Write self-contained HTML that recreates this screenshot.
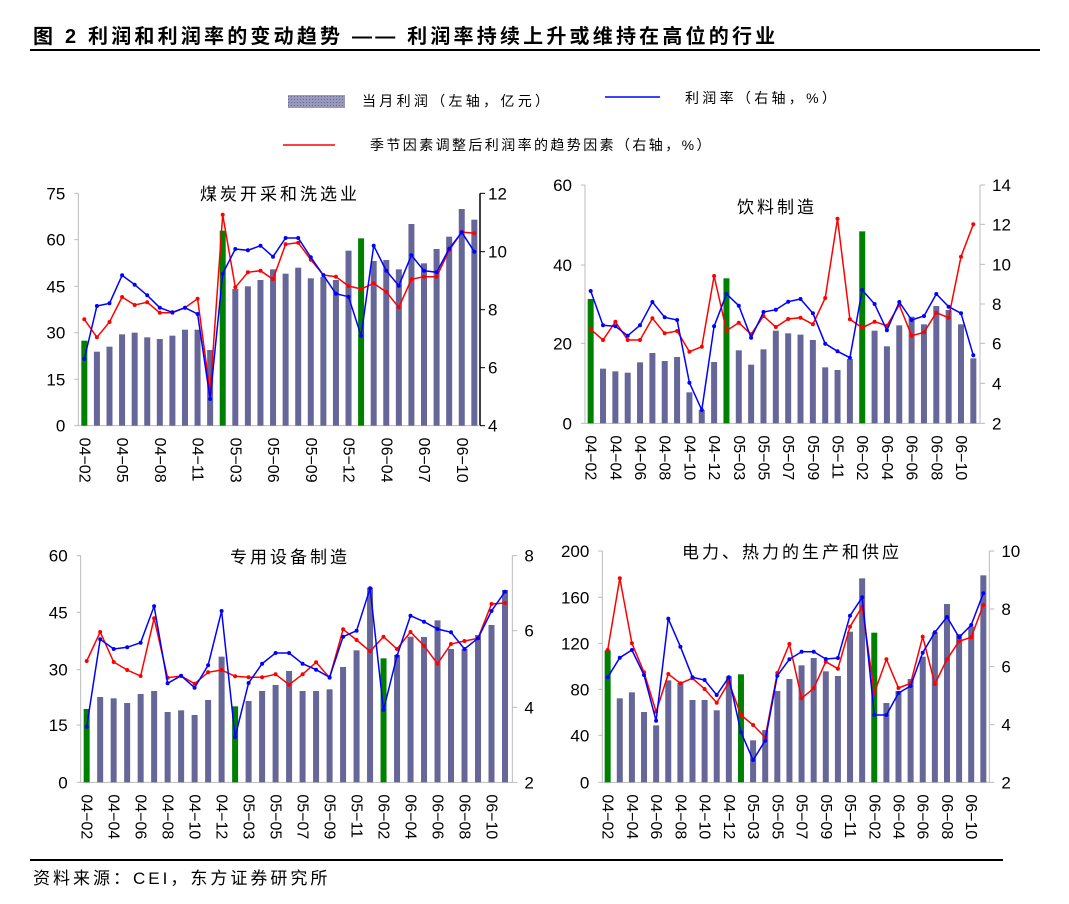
<!DOCTYPE html>
<html><head><meta charset="utf-8"><style>
body{margin:0;background:#fff;width:1069px;height:904px;overflow:hidden}
svg{display:block;font-family:"Liberation Sans","Noto Sans CJK SC",sans-serif}
</style></head><body>
<svg id="s" width="1069" height="904" xmlns="http://www.w3.org/2000/svg">
<text x="33" y="43" font-size="20" font-weight="bold" fill="#000" letter-spacing="3.2">图 2 利润和利润率的变动趋势 —— 利润率持续上升或维持在高位的行业</text>
<line x1="30" y1="50" x2="1040" y2="50" stroke="#000" stroke-width="2"/>
<defs><pattern id="pt" width="3" height="3" patternUnits="userSpaceOnUse"><rect width="3" height="3" fill="#9999bb"/><rect width="1" height="1" fill="#666699"/></pattern></defs>
<rect x="288" y="95" width="57" height="13" fill="url(#pt)"/>
<text x="362" y="106" font-size="14" letter-spacing="3.3">当月利润（左轴，亿元）</text>
<line x1="605" y1="97" x2="660" y2="97" stroke="#00f" stroke-width="1.5"/>
<text x="685" y="103" font-size="14" letter-spacing="3.3">利润率（右轴，%）</text>
<line x1="283" y1="145" x2="335" y2="145" stroke="#f00" stroke-width="1.5"/>
<text x="370" y="150" font-size="14" letter-spacing="2.4">季节因素调整后利润率的趋势因素（右轴，%）</text>
<line x1="30" y1="860" x2="1003" y2="860" stroke="#000" stroke-width="2"/>
<text x="33" y="884" font-size="17" letter-spacing="3">资料来源：CEI，东方证券研究所</text>
</svg>
<script>
var NS="http://www.w3.org/2000/svg",S=document.getElementById('s');
function el(t,a,txt){var e=document.createElementNS(NS,t);for(var k in a)e.setAttribute(k,a[k]);if(txt!=null)e.textContent=txt;S.appendChild(e);return e;}
var months=[];for(var y=4;y<=6;y++)for(var m=2;m<=(y==6?11:12);m++)months.push('0'+y+'−'+(m<10?'0'+m:m));
function panel(p){
 var ox=p.ox,oy=p.oy;function X(z){return ox+z/3}function Y(z){return oy+z/3}
 var x0=X(p.xl),x1=X(p.xr),yT=Y(p.yt),yB=Y(p.yb);
 el('line',{x1:x0,y1:yT,x2:x0,y2:yB,stroke:'#bbb'});
 el('line',{x1:x1,y1:yT,x2:x1,y2:yB,stroke:p.rc||'#bbb','stroke-width':p.rc?1.5:1});
 el('line',{x1:x0,y1:yB,x2:x1,y2:yB,stroke:'#bbb'});
 p.ll.forEach(function(l){el('line',{x1:x0-4,y1:Y(l[1]),x2:x0,y2:Y(l[1]),stroke:'#bbb'});el('text',{x:x0-13,y:Y(l[1])+6,'font-size':17,'text-anchor':'end'},l[0]);});
 p.rl.forEach(function(l){el('line',{x1:x1,y1:Y(l[1]),x2:x1+5,y2:Y(l[1]),stroke:p.rc||'#bbb'});el('text',{x:x1+p.rdx,y:Y(l[1])+6,'font-size':17},l[0]);});
 var n=32,step=(p.bl-p.bf)/31;
 for(var i=0;i<n;i++){var cx=X(p.bf+i*step),by=Y(p.bars[i]);var g=(i==0||i==11||i==22);
  el('rect',{x:cx-3,y:by,width:6,height:yB-by,fill:g?'#008000':'#666699'});}
 ['red','blue'].forEach(function(c){var arr=c=='red'?p.red:p.blue,pts=[];
  for(var i=0;i<n;i++)pts.push(X(p.bf+i*step).toFixed(1)+','+Y(arr[i]).toFixed(1));
  el('polyline',{points:pts.join(' '),fill:'none',stroke:c=='red'?'#f00':'#00f','stroke-width':1.5});
  pts.forEach(function(q){var a=q.split(',');el('circle',{cx:a[0],cy:a[1],r:2,fill:c=='red'?'#f00':'#00f'});});});
 for(var i=0;i<n;i+=p.ev){var cx=X(p.bf+i*step);
  el('text',{x:0,y:0,'font-size':16,transform:'translate('+(cx-5)+','+(yB+12)+') rotate(90)'},months[i]);}
 el('text',{x:p.tx,y:p.ty,'font-size':17,'text-anchor':'middle','letter-spacing':3},p.title);
}
panel({ox:30,oy:170,xl:145,xr:1350,yt:70,yb:767,bf:163,bl:1333,ev:3,rc:'#000',rdx:8,title:'煤炭开采和洗选业',tx:280,ty:200,
ll:[['75',70],['60',209],['45',349],['30',488],['15',628],['0',767]],rl:[['12',70],['10',245],['8',419],['6',593],['4',767]],
bars:[512,545,530,493,488,502,507,497,479,479,540,182,357,349,330,298,311,293,325,321,330,242,205,273,270,298,162,280,237,200,117,149],
blue:[567,408,400,316,344,376,413,427,413,432,687,311,237,241,227,260,204,204,262,316,371,380,497,227,302,347,256,302,307,236,187,245],
red:[448,502,456,381,405,397,428,428,413,386,668,134,352,307,302,328,223,218,269,315,320,348,357,340,366,412,328,320,320,241,186,190]});
panel({ox:540,oy:170,xl:135,xr:1320,yt:45,yb:760,bf:152,bl:1300,ev:2,rdx:12,title:'饮料制造',tx:777,ty:213,
ll:[['60',45],['40',285],['20',520],['0',760]],rl:[['14',45],['12',163],['10',283],['8',402],['6',520],['4',640],['2',760]],
bars:[387,596,604,608,577,549,573,561,667,720,576,325,541,584,538,482,490,494,510,592,600,567,184,482,529,466,440,463,408,420,463,565],
blue:[363,466,469,497,466,396,442,450,638,720,469,372,407,503,426,419,395,387,430,521,544,563,360,402,481,396,450,438,372,410,430,556],
red:[478,510,455,510,510,445,490,483,545,530,318,482,458,493,438,471,447,443,463,384,146,448,473,455,467,405,497,487,428,443,260,163]});
panel({ox:30,oy:535,xl:152,xr:1447,yt:62,yb:742,bf:170,bl:1425,ev:2,rdx:12,title:'专用设备制造',tx:290,ty:563,
ll:[['60',62],['45',232],['30',404],['15',570],['0',742]],rl:[['8',62],['6',287],['4',517],['2',742]],
bars:[522,486,490,504,477,468,531,526,540,495,365,514,498,468,450,408,468,468,463,396,346,158,370,360,305,306,256,342,342,300,270,165],
blue:[575,313,342,337,323,214,445,422,458,391,228,606,444,386,354,354,386,404,427,305,287,160,525,363,242,260,282,292,342,310,228,170],
red:[378,291,381,405,423,250,428,423,446,412,405,424,427,427,418,449,418,382,428,283,315,349,305,342,291,332,386,327,318,310,207,204]});
panel({ox:540,oy:535,xl:187,xr:1348,yt:48,yb:742,bf:203,bl:1330,ev:2,rdx:12,title:'电力、热力的生产和供应',tx:792,ty:558,
ll:[['200',48],['160',187],['120',325],['80',463],['40',601],['0',742]],rl:[['10',48],['8',222],['6',395],['4',569],['2',742]],
bars:[346,490,472,531,571,436,444,495,495,526,424,418,616,585,468,432,391,369,409,423,290,130,293,504,468,432,365,292,207,297,275,121],
blue:[427,368,345,420,557,251,335,427,435,480,427,592,675,617,422,373,350,350,372,369,242,187,540,540,474,453,353,292,246,307,270,175],
red:[345,130,325,412,530,417,445,430,462,503,442,540,570,607,414,327,490,460,380,401,275,215,474,373,459,445,305,447,373,319,307,210]});
</script>
</body></html>
